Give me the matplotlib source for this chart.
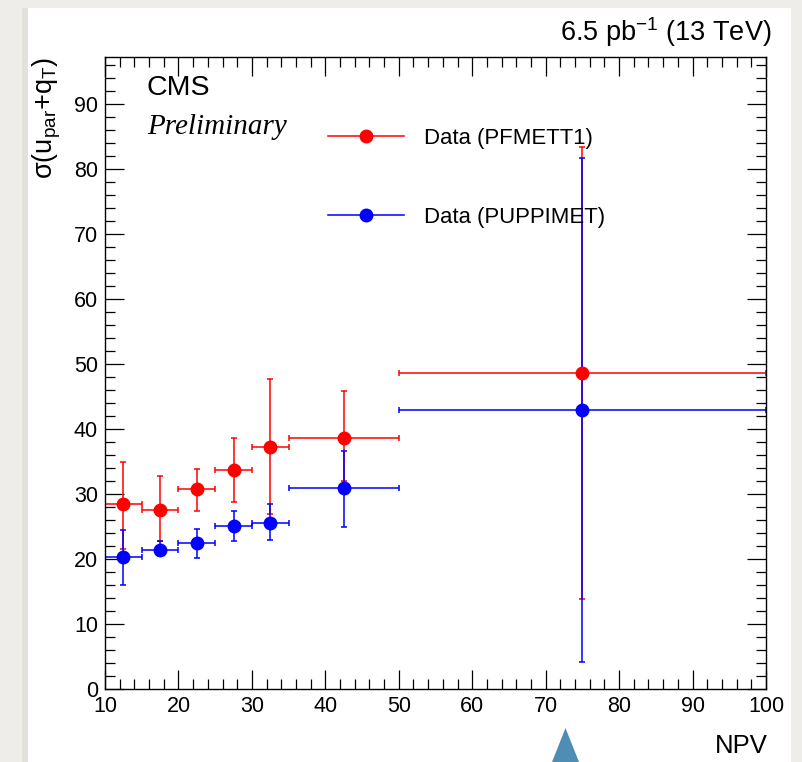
import numpy as np
import matplotlib
matplotlib.use("Agg")
import matplotlib.pyplot as plt
from matplotlib.lines import Line2D
from matplotlib.patches import Rectangle, Polygon
from matplotlib.ticker import MultipleLocator

# NPV bins
bin_lo = [10, 15, 20, 25, 30, 35, 50]
bin_hi = [15, 20, 25, 30, 35, 50, 100]

# sigma(u_par + q_T), PF MET type-1
pf_val = [28.4, 27.6, 30.7, 33.7, 37.2, 38.6, 48.6]
pf_up = [34.9, 32.8, 33.9, 38.6, 47.7, 45.8, 83.4]
pf_dn = [21.6, 22.7, 27.4, 28.8, 26.9, 32.0, 13.8]

# sigma(u_par + q_T), PUPPI MET
pu_val = [20.3, 21.4, 22.5, 25.1, 25.5, 30.9, 42.9]
pu_up = [24.4, 22.7, 24.6, 27.4, 28.4, 36.6, 81.6]
pu_dn = [16.0, 20.5, 20.1, 22.7, 22.9, 24.9, 4.1]

plt.rcParams["font.family"] = ["Liberation Sans", "DejaVu Sans"]
plt.rcParams["mathtext.fontset"] = "custom"
plt.rcParams["mathtext.rm"] = "Liberation Sans"
plt.rcParams["mathtext.it"] = "Liberation Sans"
plt.rcParams["mathtext.default"] = "regular"

W, H = 802, 762
fig = plt.figure(figsize=(W / 100, H / 100), dpi=100)
fig.patch.set_facecolor("#eeede9")
# white canvas panel with a soft shadow on the left
fig.patches.append(Rectangle((22 / W, 0), 6 / W, 1 - 8 / H, transform=fig.transFigure,
                             facecolor="#e2e1dc", edgecolor="none", zorder=-2))
fig.patches.append(Rectangle((28 / W, 0), (791 - 28) / W, 1 - 8 / H, transform=fig.transFigure,
                             facecolor="white", edgecolor="none", zorder=-1))
# small pointer at the bottom
fig.patches.append(Polygon([(552 / W, 0), (579 / W, 0), (565.5 / W, 1 - 728 / H)], closed=True,
                           transform=fig.transFigure, facecolor="#4f8db5", edgecolor="none"))

ax = fig.add_axes([105 / W, 1 - 689 / H, 661 / W, (689 - 57) / H])
ax.set_facecolor("white")

bin_lo = np.array(bin_lo, float)
bin_hi = np.array(bin_hi, float)
x = (bin_lo + bin_hi) / 2
xerr = [x - bin_lo, bin_hi - x]

for val, up, dn, col, lab in [(pf_val, pf_up, pf_dn, "#ff0000", "Data (PFMETT1)"),
                              (pu_val, pu_up, pu_dn, "#0000ff", "Data (PUPPIMET)")]:
    val = np.array(val)
    yerr = [val - np.array(dn), np.array(up) - val]
    ax.errorbar(x, val, xerr=xerr, yerr=yerr, fmt="o", color=col, ms=9,
                elinewidth=1.1, capsize=2.2, capthick=1.1, label=lab, clip_on=True)

ax.set_xlim(10, 100)
ax.set_ylim(0, 97.2)
ax.xaxis.set_major_locator(MultipleLocator(10))
ax.xaxis.set_minor_locator(MultipleLocator(2))
ax.yaxis.set_major_locator(MultipleLocator(10))
ax.yaxis.set_minor_locator(MultipleLocator(2))
ax.tick_params(which="both", direction="in", top=True, right=True, width=0.9)
ax.tick_params(which="major", length=13.5, labelsize=15.5)
ax.tick_params(which="minor", length=7)
ax.tick_params(axis="x", pad=5)
ax.tick_params(axis="y", pad=5)
for s in ax.spines.values():
    s.set_linewidth(1.0)

ax.set_xlabel("NPV", fontsize=18.5, loc="right")
ax.xaxis.set_label_coords(1.003, -0.071)
ax.set_ylabel(r"$\sigma(u_{par}{+}q_{T})$", fontsize=19.5, loc="top")
ax.yaxis.set_label_coords(-0.064, 1.0)

handles = [Line2D([], [], color="#ff0000", marker="o", ms=9, lw=1.1),
           Line2D([], [], color="#0000ff", marker="o", ms=9, lw=1.1)]
ax.legend(handles, ["Data (PFMETT1)", "Data (PUPPIMET)"], loc="upper left",
          bbox_to_anchor=(0.337, 0.8877), frameon=False, fontsize=15.9,
          handlelength=3.46, handletextpad=0.9, labelspacing=2.63,
          borderpad=0, borderaxespad=0)

ax.text(147 / W, 1 - 88 / H, "CMS", transform=fig.transFigure, fontsize=20.5,
        ha="left", va="center")
ax.text(147 / W, 1 - 127 / H, "Preliminary", transform=fig.transFigure, fontsize=21,
        family="Liberation Serif", style="italic", ha="left", va="center")
fig.text(771 / W, 1 - 32 / H, r"6.5 pb$^{-1}$ (13 TeV)", fontsize=19.5, ha="right", va="center")

fig.savefig("out.png", dpi=100, facecolor=fig.get_facecolor())
